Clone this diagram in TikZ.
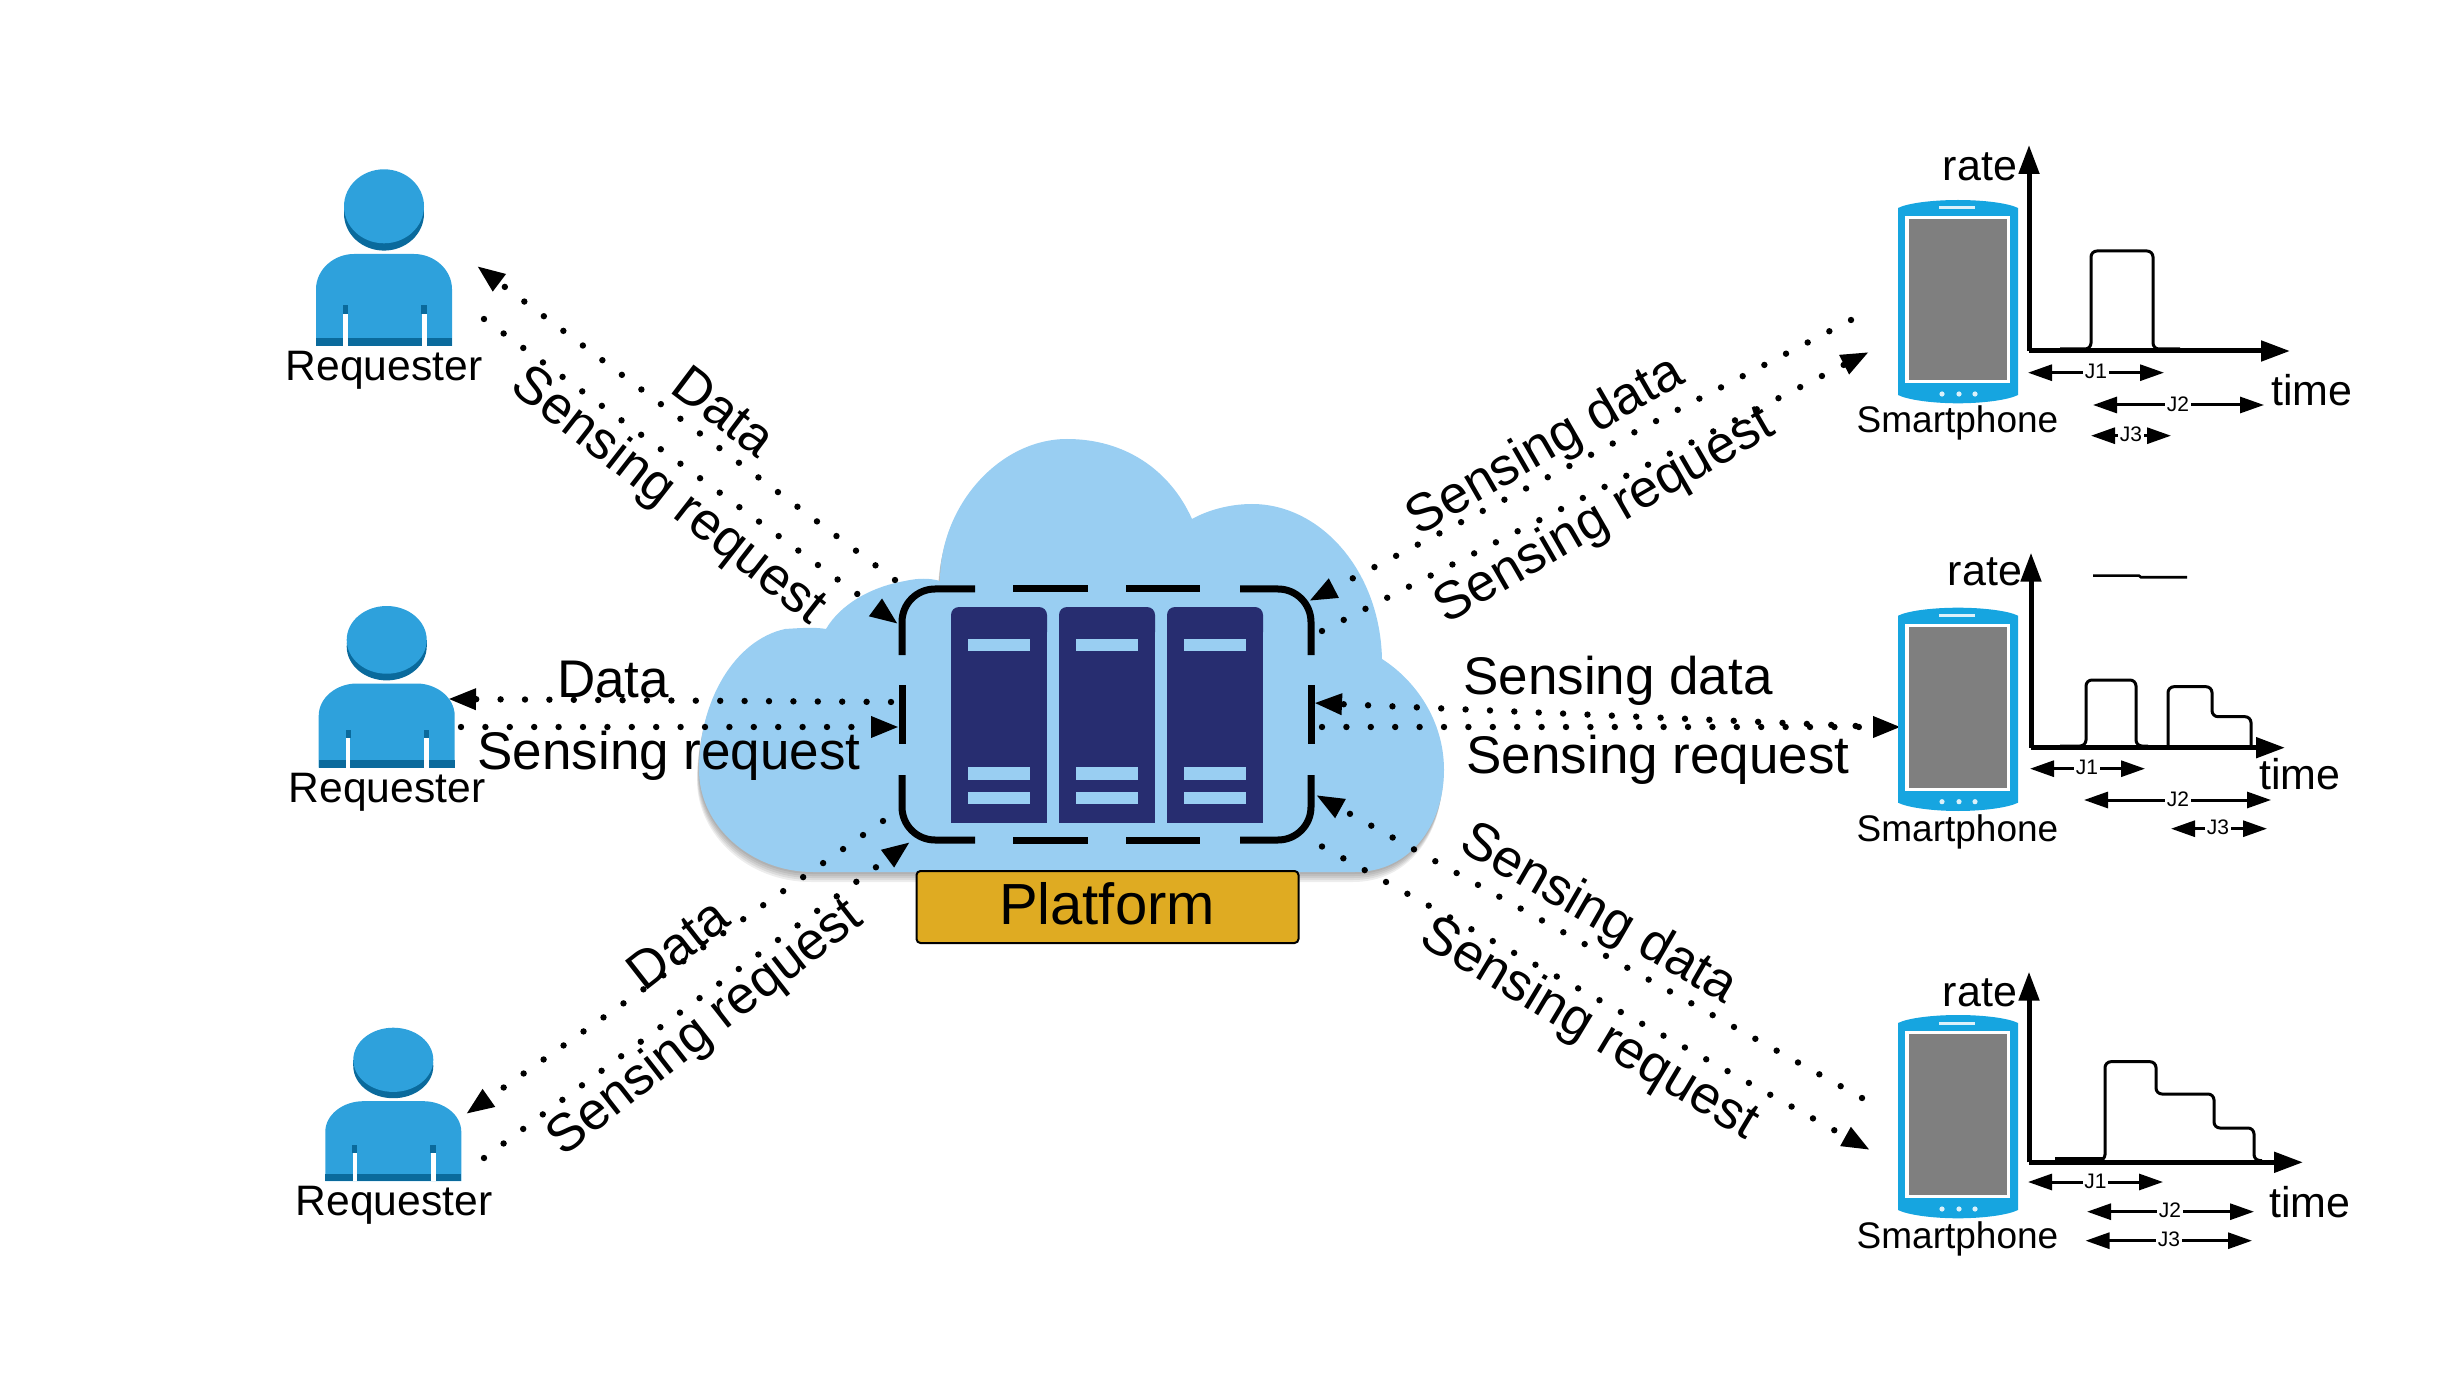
\documentclass[tikz,border=0pt]{standalone}
\usepackage{fontspec}
\setmainfont{Liberation Sans}
\usetikzlibrary{arrows.meta}
\definecolor{cloudc}{HTML}{99CEF2}
\definecolor{navyc}{HTML}{272D70}
\definecolor{goldc}{HTML}{DFAB22}
\definecolor{personc}{HTML}{2EA1DC}
\definecolor{persond}{HTML}{0A6A9C}
\definecolor{phonec}{HTML}{16A5E0}
\definecolor{screenc}{HTML}{7F7F7F}
\tikzset{
  x=0.5pt,y=-0.5pt,
  biglab/.style={font=\fontsize{26.5}{30}\selectfont,inner sep=0pt},
  reqlab/.style={font=\fontsize{21.3}{24}\selectfont,inner sep=0pt},
  phonelab/.style={font=\fontsize{18.5}{22}\selectfont,inner sep=0pt},
  axislab/.style={font=\fontsize{21.5}{24}\selectfont,inner sep=0pt},
  jlab/.style={font=\fontsize{10.5}{12}\selectfont,inner sep=0.8pt,fill=white},
  dotline/.style={line width=3.2pt,line cap=round,dash pattern=on 0pt off 12.2pt},
  dothead/.style={dotline,-{Triangle[length=14pt,width=10pt]}},
  axisline/.style={line width=2.5pt,-{Triangle[length=14.5pt,width=10pt]}},
  pulse/.style={line width=1.5pt,rounded corners=3pt},
  jline/.style={line width=1.5pt,{Triangle[length=12pt,width=8pt]}-{Triangle[length=12pt,width=8pt]}},
  framedash/.style={line width=3.5pt,line cap=butt},
  framecorner/.style={framedash,rounded corners=16.5pt},
  serverbar/.style={fill=cloudc,draw=none},
}
\newcommand{\cloudpath}{(813,872) -- (1355,872)
  .. controls (1410,872) and (1444,825) .. (1444,770)
  .. controls (1444,720) and (1415,680) .. (1382,659)
  .. controls (1380,570) and (1320,504) .. (1252,504)
  .. controls (1230,504) and (1208,510) .. (1192,519)
  .. controls (1170,470) and (1125,439) .. (1067,439)
  .. controls (1000,439) and (940,505) .. (940,581)
  .. controls (930,578) and (918,578) .. (905,581)
  .. controls (870,587) and (840,605) .. (826,629)
  .. controls (815,627) and (800,628) .. (785,629)
  .. controls (735,640) and (699,700) .. (699,770)
  .. controls (699,825) and (750,872) .. (813,872) -- cycle}
\newcommand{\reqicon}[3]{%
  \begin{scope}[shift={(#1,#2)},yscale=#3/176.7]
    \fill[persond] (-40,37) rectangle (40,44.3);
    \fill[persond] (0,44.3) ellipse [x radius=40,y radius=37];
    \fill[personc] (0,37) ellipse [x radius=40,y radius=37];
    \fill[personc] (-68,176.7) -- (-68,120)
      .. controls (-68,100) and (-50,84.7) .. (-30,84.7) -- (30,84.7)
      .. controls (50,84.7) and (68,100) .. (68,120) -- (68,176.7) -- cycle;
    \fill[persond] (-68,168.3) rectangle (68,176.7);
    \fill[persond] (-41,135.7) rectangle (-36,144.7);
    \fill[persond] (37,135.7) rectangle (42.7,144.7);
    \fill[white] (-40.7,144.7) rectangle (-36.3,176.7);
    \fill[white] (37.7,144.7) rectangle (42.7,176.7);
  \end{scope}}
\newcommand{\phoneicon}[1]{%
  \begin{scope}[shift={(1898,#1)}]
    \fill[phonec] (0,8) .. controls (10,3) and (35,0) .. (60,0)
      .. controls (85,0) and (110,3) .. (120,8) -- (120,195)
      .. controls (110,200) and (85,203.3) .. (60,203.3)
      .. controls (35,203.3) and (10,200) .. (0,195) -- cycle;
    \fill[white] (7,16) rectangle (112,183);
    \fill[screenc] (10.5,19) rectangle (109,180);
    \fill[white!85!phonec] (41,6.5) rectangle (77,9.5);
    \fill[white!85!phonec] (44,194) circle [radius=2.6];
    \fill[white!85!phonec] (61,194) circle [radius=2.6];
    \fill[white!85!phonec] (77,194) circle [radius=2.6];
  \end{scope}}
\newcommand{\jspan}[6]{% name, x1, x2, y, text, label x
  \coordinate (#1a) at (#2,#4);
  \coordinate (#1b) at (#3,#4);
  \draw[jline] (#1a) -- (#1b);
  \node[jlab] (#1) at (#6,#4-1) {#5};}
\begin{document}
\begin{tikzpicture}
\useasboundingbox (0,0) rectangle (2443,1374);
% cloud with soft shadow
\foreach \d in {10,8,6,4,2}
  \fill[black,opacity=0.07,shift={(-\d*0.2,\d)}] \cloudpath;
\fill[cloudc] \cloudpath;
% servers
\foreach \xa in {951,1059,1167}{
  \fill[navyc,rounded corners=4pt] (\xa,640) -- (\xa,607) -- (\xa+96,607) -- (\xa+96,640) -- cycle;
  \fill[navyc] (\xa,625) rectangle (\xa+96,823);
  \fill[serverbar] (\xa+17,639) rectangle (\xa+79,651);
  \fill[serverbar] (\xa+17,767) rectangle (\xa+79,780);
  \fill[serverbar] (\xa+17,792) rectangle (\xa+79,804);
}
% dashed frame
\draw[framecorner] (902,655) -- (902,589) -- (975,589);
\draw[framedash] (1013,589) -- (1088,589);
\draw[framedash] (1126,589) -- (1200,589);
\draw[framecorner] (1240,589) -- (1311,589) -- (1311,655);
\draw[framedash] (902,685) -- (902,744);
\draw[framedash] (1311,685) -- (1311,744);
\draw[framecorner] (902,775) -- (902,840) -- (975,840);
\draw[framedash] (1013,840) -- (1088,840);
\draw[framedash] (1126,840) -- (1200,840);
\draw[framecorner] (1240,840) -- (1311,840) -- (1311,775);
% platform
\node[draw=black,line width=1pt,fill=goldc,rounded corners=2pt,minimum width=191pt,minimum height=36pt,inner sep=0pt] (platform) at (1107.5,907) {};
\node[inner sep=0pt,font=\fontsize{29}{32}\selectfont] (platformtext) at (1107,904) {Platform};
% connector ends
\coordinate (lta1) at (895,580);   \coordinate (lta2) at (477,266);
\coordinate (ltb1) at (484,319);   \coordinate (ltb2) at (898,624);
\coordinate (lma1) at (891,702);   \coordinate (lma2) at (448,699);
\coordinate (lmb1) at (461,727);   \coordinate (lmb2) at (899,727);
\coordinate (lba1) at (883,821);   \coordinate (lba2) at (466,1114);
\coordinate (lbb1) at (484,1158);  \coordinate (lbb2) at (910,842);
\coordinate (rta1) at (1851,320);  \coordinate (rta2) at (1309,601);
\coordinate (rtb1) at (1322,631);  \coordinate (rtb2) at (1869,352);
\coordinate (rma1) at (1880,727);  \coordinate (rma2) at (1314,703);
\coordinate (rmb1) at (1322,727);  \coordinate (rmb2) at (1901,727);
\coordinate (rba1) at (1862,1098); \coordinate (rba2) at (1316,795);
\coordinate (rbb1) at (1322,846.5);\coordinate (rbb2) at (1870,1150);
\foreach \p in {lta,ltb,lma,lmb,lba,lbb,rta,rtb,rma,rmb,rba,rbb}
  \draw[dothead] (\p1) -- (\p2);
% connector labels
\node[biglab,rotate=-37] (l1) at (724,411) {Data};
\node[biglab,rotate=-38] (l2) at (668,497) {Sensing request};
\node[biglab] (l3) at (613,680) {Data};
\node[biglab] (l4) at (669,756) {Sensing request};
\node[biglab,rotate=38] (l5) at (678,944) {Data};
\node[biglab,rotate=38] (l6) at (706,1029) {Sensing request};
\node[biglab,rotate=30] (r1) at (1546,447) {Sensing data};
\node[biglab,rotate=30] (r2) at (1605,517) {Sensing request};
\node[biglab] (r3) at (1618,681) {Sensing data};
\node[biglab] (r4) at (1658,760) {Sensing request};
\node[biglab,rotate=-30] (r5) at (1598,915) {Sensing data};
\node[biglab,rotate=-31] (r6) at (1589,1030) {Sensing request};
% requesters
\reqicon{384}{169.3}{176.7}
\node[reqlab] (req1) at (384,370) {Requester};
\reqicon{386.7}{606}{161.7}
\node[reqlab] (req2) at (387,792.5) {Requester};
\reqicon{393.3}{1027.7}{153.3}
\node[reqlab] (req3) at (394,1205) {Requester};
% phones
\phoneicon{200}
\node[phonelab] (ph1) at (1957.5,423) {Smartphone};
\phoneicon{607.7}
\node[phonelab] (ph2) at (1957.5,831.5) {Smartphone};
\phoneicon{1015}
\node[phonelab] (ph3) at (1957.5,1238.5) {Smartphone};
% chart 1
\coordinate (o1) at (2029,351);
\coordinate (y1) at (2029,145);
\coordinate (x1) at (2290,351);
\draw[pulse] (2060,349) -- (2091,349) -- (2091,251) -- (2153,251) -- (2153,349) -- (2180,349);
\draw[axisline] (o1) -- (y1);
\draw[axisline] (o1) -- (x1);
\node[axislab] (rate1) at (1980,167) {rate};
\node[axislab] (time1) at (2312,390) {time};
\jspan{ja1}{2028}{2164}{372.7}{J1}{2096}
\jspan{ja2}{2093}{2264}{405}{J2}{2178}
\jspan{ja3}{2091}{2171}{435.7}{J3}{2131}
% chart 2
\coordinate (o2) at (2031,747.7);
\coordinate (y2) at (2031,552.7);
\coordinate (x2) at (2285,747.7);
\draw[line width=1.3pt] (2093,575.7) -- (2139,575.7) -- (2141,577.3) -- (2187,577.3);
\draw[pulse] (2060,746) -- (2086,746) -- (2086,680) -- (2136,680) -- (2136,746) -- (2148,746);
\draw[pulse] (2168,746) -- (2168,686.7) -- (2212,686.7) -- (2212,716.7) -- (2251,716.7) -- (2251,746);
\draw[axisline] (o2) -- (y2);
\draw[axisline] (o2) -- (x2);
\node[axislab] (rate2) at (1985,572) {rate};
\node[axislab] (time2) at (2300,774) {time};
\jspan{jb1}{2030}{2145}{768.7}{J1}{2087}
\jspan{jb2}{2084}{2271}{800}{J2}{2178}
\jspan{jb3}{2171}{2267}{828.7}{J3}{2218}
% chart 3
\coordinate (o3) at (2029,1162.3);
\coordinate (y3) at (2029,971.7);
\coordinate (x3) at (2303,1162.3);
\draw[line width=2.5pt] (2055,1159.5) -- (2103,1159.5);
\draw[pulse] (2095,1160.5) -- (2105,1160.5) -- (2105,1061.7) -- (2156,1061.7) -- (2156,1094) -- (2214,1094) -- (2214,1128) -- (2254,1128) -- (2254,1160.5) -- (2262,1160.5);
\draw[axisline] (o3) -- (y3);
\draw[axisline] (o3) -- (x3);
\node[axislab] (rate3) at (1980,993) {rate};
\node[axislab] (time3) at (2310,1201.7) {time};
\jspan{jc1}{2028}{2163}{1182}{J1}{2095.5}
\jspan{jc2}{2087}{2254}{1211.7}{J2}{2170}
\jspan{jc3}{2085.5}{2252}{1240.7}{J3}{2169}
\end{tikzpicture}
\end{document}
